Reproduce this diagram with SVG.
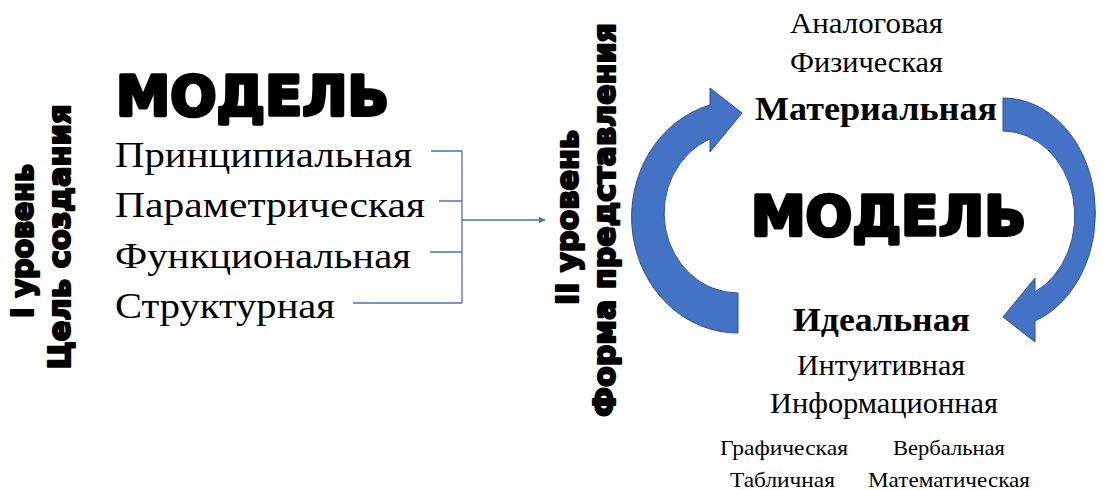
<svg xmlns="http://www.w3.org/2000/svg" width="1103" height="490" viewBox="0 0 1103 490">
<style>
.serif{font-family:"Liberation Serif","Times New Roman",serif;fill:#000}
.b{font-weight:bold}
.heavy{font-family:"DejaVu Sans","Liberation Sans",sans-serif;font-weight:900;fill:#000;stroke:#000;stroke-width:2.2;stroke-linejoin:round}
.big{font-family:"DejaVu Sans","Liberation Sans",sans-serif;font-weight:900;fill:#000;stroke:#000;stroke-width:3.6;stroke-linejoin:round}
.conn{fill:none;stroke:#4472C4;stroke-width:1.3}
.arr{fill:#4472C4;stroke:#2F528F;stroke-width:1}
</style>
<defs>
<marker id="ah" viewBox="0 0 10 10" refX="9" refY="5" markerWidth="7" markerHeight="7" orient="auto" markerUnits="userSpaceOnUse">
<path d="M0,0 L10,5 L0,10 Z" fill="#4472C4"/>
</marker>
</defs>
<rect width="1103" height="490" fill="#fff"/>

<g id="level1-labels">
<text class="heavy" font-size="30" text-anchor="middle" transform="translate(33,241) rotate(-90)" textLength="154" lengthAdjust="spacingAndGlyphs">I уровень</text>
<text class="heavy" font-size="30" text-anchor="middle" transform="translate(70,237) rotate(-90)" textLength="265" lengthAdjust="spacingAndGlyphs">Цель создания</text>
</g>

<g id="model-left">
<text class="big" x="116" y="115" font-size="55" textLength="273" lengthAdjust="spacingAndGlyphs">МОДЕЛЬ</text>
</g>

<g id="purpose-list">
<text class="serif" x="115" y="167" font-size="36" textLength="297" lengthAdjust="spacingAndGlyphs">Принципиальная</text>
<text class="serif" x="115" y="217" font-size="36" textLength="310" lengthAdjust="spacingAndGlyphs">Параметрическая</text>
<text class="serif" x="115" y="268" font-size="36" textLength="296" lengthAdjust="spacingAndGlyphs">Функциональная</text>
<text class="serif" x="115" y="318" font-size="36" textLength="220" lengthAdjust="spacingAndGlyphs">Структурная</text>
</g>

<g id="connectors">
<path class="conn" d="M431,151 H462 M439,201 H462 M430,252 H462 M353,303 H462 M462,151 V303"/>
<path class="conn" d="M462,220 H545" marker-end="url(#ah)"/>
</g>

<g id="level2-labels">
<text class="heavy" font-size="30" text-anchor="middle" transform="translate(578,217.5) rotate(-90)" textLength="175" lengthAdjust="spacingAndGlyphs">II уровень</text>
<text class="heavy" font-size="30" text-anchor="middle" transform="translate(615,220) rotate(-90)" textLength="394" lengthAdjust="spacingAndGlyphs">Форма представления</text>
</g>

<g id="cycle-arrows">
<path class="arr" d="M738,333 A106,116 0 0 1 710,105 L710,88 L742,113 L710,152 L710,139 A74,80 0 0 0 738,293 Z"/>
<path class="arr" d="M1003,98 A92,115 0 0 1 1035,321 L1035,342 L1003,317 L1035,278 L1035,292 A72,85 0 0 0 1003,131 Z"/>
</g>

<g id="material">
<text class="serif" x="866.5" y="33" font-size="29" text-anchor="middle" textLength="153" lengthAdjust="spacingAndGlyphs">Аналоговая</text>
<text class="serif" x="866.5" y="72" font-size="29" text-anchor="middle" textLength="153" lengthAdjust="spacingAndGlyphs">Физическая</text>
<text class="serif b" x="876" y="120" font-size="34" text-anchor="middle" textLength="242" lengthAdjust="spacingAndGlyphs">Материальная</text>
</g>

<g id="model-right">
<text class="big" x="751" y="235" font-size="55" textLength="275" lengthAdjust="spacingAndGlyphs">МОДЕЛЬ</text>
</g>

<g id="ideal">
<text class="serif b" x="881.5" y="331" font-size="34" text-anchor="middle" textLength="177" lengthAdjust="spacingAndGlyphs">Идеальная</text>
<text class="serif" x="881" y="375" font-size="29" text-anchor="middle" textLength="168" lengthAdjust="spacingAndGlyphs">Интуитивная</text>
<text class="serif" x="884" y="413" font-size="29" text-anchor="middle" textLength="228" lengthAdjust="spacingAndGlyphs">Информационная</text>
<text class="serif" x="784" y="455" font-size="22" text-anchor="middle" textLength="128" lengthAdjust="spacingAndGlyphs">Графическая</text>
<text class="serif" x="949" y="455" font-size="22" text-anchor="middle" textLength="112" lengthAdjust="spacingAndGlyphs">Вербальная</text>
<text class="serif" x="782.5" y="487" font-size="22" text-anchor="middle" textLength="105" lengthAdjust="spacingAndGlyphs">Табличная</text>
<text class="serif" x="949" y="487" font-size="22" text-anchor="middle" textLength="162" lengthAdjust="spacingAndGlyphs">Математическая</text>
</g>
</svg>
